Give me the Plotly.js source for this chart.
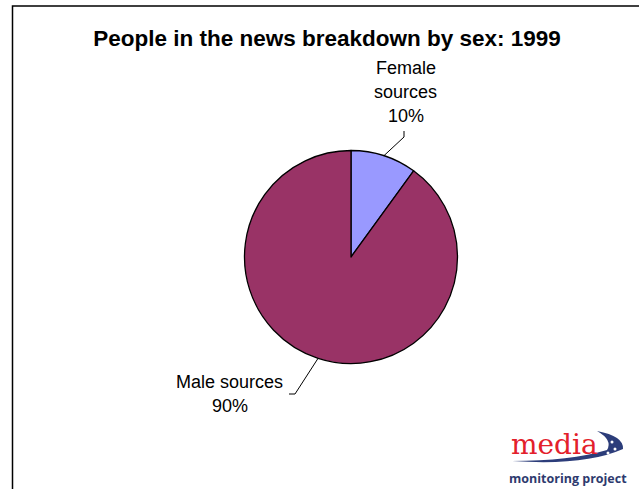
<!DOCTYPE html>
<html>
<head>
<meta charset="utf-8">
<script src="https://cdn.plot.ly/plotly-3.0.1.min.js"></script>
<style>html,body{margin:0;padding:0;background:#fff;}#chart{width:639px;height:489px;}</style>
</head>
<body>
<div id="chart"></div>
<script>
// ---- data ----
const categories = ["Female sources", "Male sources"];
const values = [10, 90];
const percentLabels = ["10%", "90%"];
const sliceColors = ["#9999FF", "#993366"];
const titleText = "People in the news breakdown by sex: 1999";

// ---- geometry (px) ----
const W = 639, H = 489;
const cx = 351, cy = 257, R = 106.5;
const px = x => x / W;
const py = y => 1 - y / H;

// label layout: line texts, centre x, first-line centre y, elbow and end of leader line
const labelLines = [["Female", "sources", percentLabels[0]], ["Male sources", percentLabels[1]]];
const labelPos = [
  {x: 406, y: 68, elbow: [404, 137], end: [404, 131]},
  {x: 230, y: 382, elbow: [295, 394], end: [289, 394]}
];
const lineGap = 24;

const total = values.reduce((a, b) => a + b, 0);
const annotations = [];
const shapes = [];

// frame
shapes.push({type: "path", xref: "paper", yref: "paper",
  path: `M${px(12.5)},${py(495)} L${px(12.5)},${py(6)} L${px(650)},${py(6)}`,
  line: {color: "#000", width: 1.5}});

let cum = 0;
values.forEach((v, i) => {
  const mid = (cum + v / 2) / total * 2 * Math.PI; // clockwise from 12 o'clock
  cum += v;
  const sx = cx + R * Math.sin(mid), sy = cy - R * Math.cos(mid);
  const lp = labelPos[i];
  shapes.push({type: "path", xref: "paper", yref: "paper",
    path: `M${px(sx)},${py(sy)} L${px(lp.elbow[0])},${py(lp.elbow[1])} L${px(lp.end[0])},${py(lp.end[1])}`,
    line: {color: "#000", width: 1}});
  labelLines[i].forEach((t, k) => {
    annotations.push({text: t, xref: "paper", yref: "paper", x: px(lp.x), y: py(lp.y + k * lineGap),
      xanchor: "center", yanchor: "middle", showarrow: false,
      font: {family: "Liberation Sans, Arial, sans-serif", size: 18, color: "#000"}});
  });
});

// logo
shapes.push({type: "path", xref: "paper", yref: "paper", fillcolor: "#2c3d7a", line: {width: 0},
  path: `M${px(512)},${py(461)} Q${px(585)},${py(466)} ${px(623)},${py(449)} Q${px(624)},${py(436)} ${px(597)},${py(431)} Q${px(613)},${py(440)} ${px(607)},${py(450)} Q${px(570)},${py(461)} ${px(512)},${py(461)} Z`});
[[606, 446], [612, 442], [615, 449], [608, 453]].forEach(d => {
  shapes.push({type: "circle", xref: "paper", yref: "paper", fillcolor: "#ffffff", line: {width: 0},
    x0: px(d[0] - 1.5), x1: px(d[0] + 1.5), y0: py(d[1] + 1.5), y1: py(d[1] - 1.5)});
});
annotations.push({text: "media", xref: "paper", yref: "paper", x: px(554), y: py(444),
  xanchor: "center", yanchor: "middle", showarrow: false,
  font: {family: "DejaVu Serif, serif", size: 28, color: "#e3202b"}});
annotations.push({text: "<b>monitoring project</b>", xref: "paper", yref: "paper", x: px(568), y: py(478),
  xanchor: "center", yanchor: "middle", showarrow: false,
  font: {family: "Open Sans, sans-serif", size: 12.5, color: "#2d3a6e"}});

const trace = {
  type: "pie",
  labels: categories,
  values: values,
  sort: false,
  direction: "clockwise",
  rotation: 0,
  textinfo: "none",
  hoverinfo: "none",
  marker: {colors: sliceColors, line: {color: "#000", width: 1.3}},
  domain: {x: [px(cx - R), px(cx + R)], y: [py(cy + R), py(cy - R)]}
};

const layout = {
  width: W, height: H,
  margin: {l: 0, r: 0, t: 0, b: 0},
  paper_bgcolor: "#fff",
  showlegend: false,
  title: {text: "<b>" + titleText + "</b>", x: px(327), xanchor: "center", y: py(38), yanchor: "middle",
    font: {family: "Liberation Sans, Arial, sans-serif", size: 22.5, color: "#000"}},
  annotations: annotations,
  shapes: shapes
};

Plotly.newPlot("chart", [trace], layout, {staticPlot: true});
</script>
</body>
</html>
